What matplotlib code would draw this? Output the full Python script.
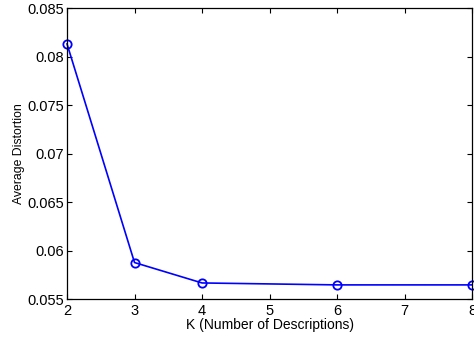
import matplotlib
matplotlib.use("Agg")
import matplotlib.pyplot as plt

# values
k_values = [2, 3, 4, 6, 8]
distortion = [0.0813, 0.0588, 0.0567, 0.0565, 0.0565]
y_ticks = [0.055, 0.06, 0.065, 0.07, 0.075, 0.08, 0.085]
y_tick_labels = ["0.055", "0.06", "0.065", "0.07", "0.075", "0.08", "0.085"]

plt.rcParams['font.family'] = ['Liberation Sans', 'DejaVu Sans']

fig = plt.figure(figsize=(4.74, 3.38), dpi=100)
ax = fig.add_axes([0.1414, 0.114, 0.8544, 0.8623])

ax.plot(k_values, distortion, '-o', color='#0000ff', linewidth=1.2,
        markersize=6, markerfacecolor='none', markeredgecolor='#0000ff',
        markeredgewidth=1.3, clip_on=False)

ax.set_xlim(2, 8)
ax.set_ylim(0.055, 0.085)
ax.set_xticks(range(2, 9))
ax.set_yticks(y_ticks)
ax.set_yticklabels(y_tick_labels)
ax.tick_params(direction='in', top=True, right=True, labelsize=10.5,
               length=3.5, width=0.8)
ax.tick_params(axis='x', pad=3)
ax.tick_params(axis='y', pad=2)
for s in ax.spines.values():
    s.set_linewidth(0.9)

ax.set_xlabel("K (Number of Descriptions)", fontsize=10, labelpad=0)
ax.set_ylabel("Average Distortion", fontsize=8.8, labelpad=2)

fig.savefig("out.png", dpi=100)
